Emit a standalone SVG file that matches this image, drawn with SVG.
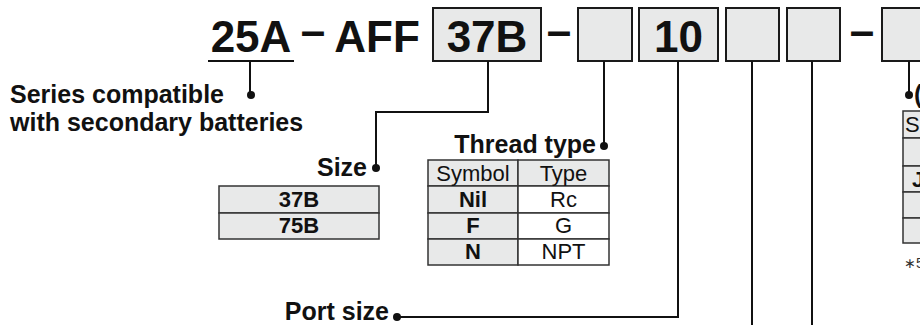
<svg xmlns="http://www.w3.org/2000/svg" width="920" height="325" viewBox="0 0 920 325">
<style>
text{font-family:"Liberation Sans",Arial,Helvetica,sans-serif;fill:#111}
.t{font-size:44px;font-weight:bold}
.lb{font-size:25px;font-weight:bold}
.c{font-size:22px}
.b{font-weight:bold}
.m{text-anchor:middle}
.e{text-anchor:end}
.box{fill:#e8e9e9;stroke:#1a1a1a;stroke-width:2}
.cell{fill:#e8e9e9;stroke:#333;stroke-width:1.5}
.wc{fill:#fff;stroke:#333;stroke-width:1.5}
.ln{fill:none;stroke:#111;stroke-width:2}
.dot{fill:#111}
</style>
<rect width="920" height="325" fill="#fff"/>
<g id="title">
  <text class="t m" x="251" y="52">25A</text>
  <line class="ln" x1="208" y1="61" x2="294" y2="61"/>
  <text class="t m" x="313" y="46">–</text>
  <text class="t m" x="377" y="52">AFF</text>
  <g id="box-size"><rect class="box" x="433" y="8" width="108" height="53"/><text class="t m" x="487" y="52">37B</text></g>
  <text class="t m" x="559" y="46">–</text>
  <g id="box-thread"><rect class="box" x="578" y="8" width="54" height="53"/></g>
  <g id="box-port"><rect class="box" x="639" y="8" width="79" height="53"/><text class="t m" x="678.5" y="52">10</text></g>
  <g id="box-4"><rect class="box" x="726" y="8" width="53" height="53"/></g>
  <g id="box-5"><rect class="box" x="787" y="8" width="53" height="53"/></g>
  <text class="t m" x="862" y="46">–</text>
  <g id="box-6"><rect class="box" x="882" y="8" width="54" height="53"/></g>
</g>
<g id="connectors">
  <path class="ln" d="M250,61 V95"/>
  <circle class="dot" cx="251" cy="95" r="4"/>
  <path class="ln" d="M488,61 V112 H376 V168"/>
  <circle class="dot" cx="376" cy="168" r="4"/>
  <path class="ln" d="M604,61 V146"/>
  <circle class="dot" cx="604" cy="146" r="4"/>
  <path class="ln" d="M678,61 V317 H397"/>
  <circle class="dot" cx="397" cy="317" r="4"/>
  <path class="ln" d="M752,61 V325"/>
  <path class="ln" d="M812,61 V325"/>
  <path class="ln" d="M909,61 V95"/>
  <circle class="dot" cx="909" cy="95" r="4"/>
</g>
<g id="series">
  <text class="lb" x="10" y="103">Series compatible</text>
  <text class="lb" x="10" y="131">with secondary batteries</text>
</g>
<g id="size">
  <text class="lb e" x="367" y="176">Size</text>
  <rect class="cell" x="219" y="186" width="160" height="27"/>
  <rect class="cell" x="219" y="213" width="160" height="26"/>
  <text class="c b m" x="299" y="207">37B</text>
  <text class="c b m" x="299" y="233">75B</text>
</g>
<g id="thread">
  <text class="lb e" x="596" y="153">Thread type</text>
  <rect class="cell" x="428" y="160" width="90" height="26"/>
  <rect class="cell" x="518" y="160" width="91" height="26"/>
  <rect class="cell" x="428" y="186" width="90" height="27"/>
  <rect class="wc" x="518" y="186" width="91" height="27"/>
  <rect class="cell" x="428" y="213" width="90" height="26"/>
  <rect class="wc" x="518" y="213" width="91" height="26"/>
  <rect class="cell" x="428" y="239" width="90" height="26"/>
  <rect class="wc" x="518" y="239" width="91" height="26"/>
  <text class="c m" x="473" y="181">Symbol</text>
  <text class="c m" x="563.5" y="181">Type</text>
  <text class="c b m" x="473" y="207">Nil</text>
  <text class="c m" x="563.5" y="207">Rc</text>
  <text class="c b m" x="473" y="233">F</text>
  <text class="c m" x="563.5" y="233">G</text>
  <text class="c b m" x="473" y="259">N</text>
  <text class="c m" x="563.5" y="259">NPT</text>
</g>
<g id="port">
  <text class="lb e" x="389" y="320">Port size</text>
</g>
<g id="option">
  <text class="lb" x="914" y="103">(</text>
  <rect class="cell" x="903" y="111" width="40" height="27"/>
  <rect class="cell" x="903" y="138" width="40" height="28"/>
  <rect class="cell" x="903" y="166" width="40" height="26"/>
  <rect class="cell" x="903" y="192" width="40" height="26"/>
  <rect class="cell" x="903" y="218" width="40" height="25"/>
  <text class="c" x="905" y="132">S</text>
  <text class="c b" x="912" y="187">J</text>
  <text x="904" y="268" style="font-size:14px;fill:#333">∗5</text>
</g>
</svg>
